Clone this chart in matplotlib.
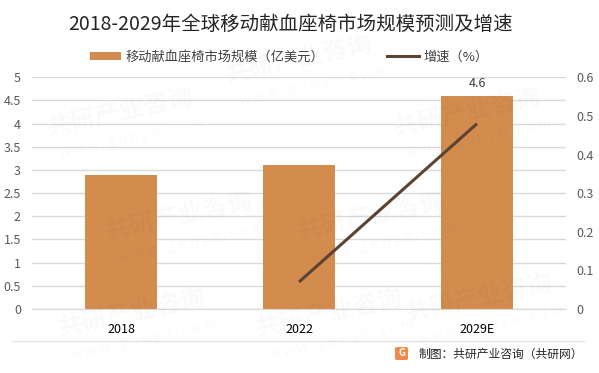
import matplotlib
matplotlib.use("Agg")
import matplotlib.pyplot as plt
import numpy as np
from matplotlib.patches import FancyBboxPatch
from matplotlib.lines import Line2D
from matplotlib.patches import Patch

plt.rcParams['font.family'] = ['Noto Sans CJK SC', 'DejaVu Sans']

categories = ['2018', '2022', '2029E']
market_size = [2.9, 3.1, 4.6]          # 亿美元
growth = [np.nan, 0.07, 0.48]          # 增速
left_ticks = [0, 0.5, 1, 1.5, 2, 2.5, 3, 3.5, 4, 4.5, 5]
left_tick_labels = ['0', '0.5', '1', '1.5', '2', '2.5', '3', '3.5', '4', '4.5', '5']
right_ticks = [0, 0.1, 0.2, 0.3, 0.4, 0.5, 0.6]
right_tick_labels = ['0', '0.1', '0.2', '0.3', '0.4', '0.5', '0.6']

title = '2018-2029年全球移动献血座椅市场规模预测及增速'
bar_label = '移动献血座椅市场规模（亿美元）'
line_label = '增速（%）'
source = '制图：共研产业咨询（共研网）'

bar_color = '#D48B4E'
line_color = '#5C4332'
grid_color = '#D9D9D9'

fig = plt.figure(figsize=(5.99, 3.73), dpi=100)
fig.patch.set_facecolor('white')

# faint watermarks (kept inside the figure)
wm_positions = [(0.20, 0.70), (0.50, 0.84), (0.78, 0.70), (0.30, 0.42),
                (0.62, 0.42), (0.22, 0.16), (0.55, 0.16), (0.80, 0.20)]
for (wx, wy) in wm_positions:
    fig.text(wx, wy, '共研产业咨询', fontsize=18, fontweight='bold', color='#000000',
             alpha=0.025, rotation=12, ha='center', va='center', zorder=0)
    fig.text(wx + 0.02, wy - 0.07, 'w w w . g o n y n . c o m', fontsize=10, color='#000000',
             alpha=0.025, rotation=12, ha='center', va='center', zorder=0)

ax = fig.add_axes([32/599, 1-309/373, (566-32)/599, (309-77.3)/373])
ax.set_facecolor('none')
x = np.arange(len(categories))
bars = ax.bar(x, market_size, width=0.4, color=bar_color, zorder=2)
ax.set_xlim(-0.5, 2.5)
ax.set_ylim(0, 5)
ax.set_yticks(left_ticks)
ax.set_yticklabels(left_tick_labels)
ax.yaxis.grid(True, color=grid_color, linewidth=1, zorder=0)
ax.set_axisbelow(True)
for s in ['top', 'right', 'left']:
    ax.spines[s].set_visible(False)
ax.spines['bottom'].set_color(grid_color)
ax.tick_params(axis='y', length=0, pad=8, labelsize=9, labelcolor='#595959')
ax.set_xticks(x)
ax.set_xticklabels(categories)
ax.tick_params(axis='x', length=0, pad=10, labelsize=9, labelcolor='#000000')

# data label for last bar
ax.text(x[2], market_size[2] + 0.12, f'{market_size[2]}', ha='center', va='bottom',
        fontsize=9, color='#404040')

ax2 = ax.twinx()
ax2.set_ylim(0, 0.6)
ax2.set_yticks(right_ticks)
ax2.set_yticklabels(right_tick_labels)
ax2.tick_params(axis='y', length=0, pad=7.5, labelsize=9, labelcolor='#595959')
for s in ['top', 'right', 'left', 'bottom']:
    ax2.spines[s].set_visible(False)
ax2.plot(x, growth, color=line_color, linewidth=2.2, solid_capstyle='butt', zorder=3)

# title
fig.text(291/599, 1-24/373, title, ha='center', va='center', fontsize=14, color='#262626')

# legend
handles = [Patch(facecolor=bar_color, edgecolor='none'),
           Line2D([0], [0], color=line_color, linewidth=2.2)]
leg = fig.legend(handles, [bar_label, line_label], loc='center', ncol=2,
                 bbox_to_anchor=(289/599, 1-57/373), frameon=False, fontsize=9.5,
                 handlelength=2.4, handleheight=0.6, handletextpad=0.3, columnspacing=4.8,
                 labelcolor='#404040')

# separator line
fig.add_artist(Line2D([12/599, 584/599], [1-341/373, 1-341/373], color='#E3E3E3', linewidth=1))

# logo
logo = FancyBboxPatch((395/599, 1-360/373), 13/599, 13/373, boxstyle='round,pad=0,rounding_size=0.004',
                      transform=fig.transFigure, facecolor='#F08A4B', edgecolor='none')
fig.add_artist(logo)
fig.text(401.5/599, 1-353.5/373, 'G', ha='center', va='center', fontsize=7, color='white',
         fontweight='bold')

fig.text(583/599, 1-354/373, source, ha='right', va='center', fontsize=8.5, color='#262626')

fig.savefig('out.png', dpi=100)
